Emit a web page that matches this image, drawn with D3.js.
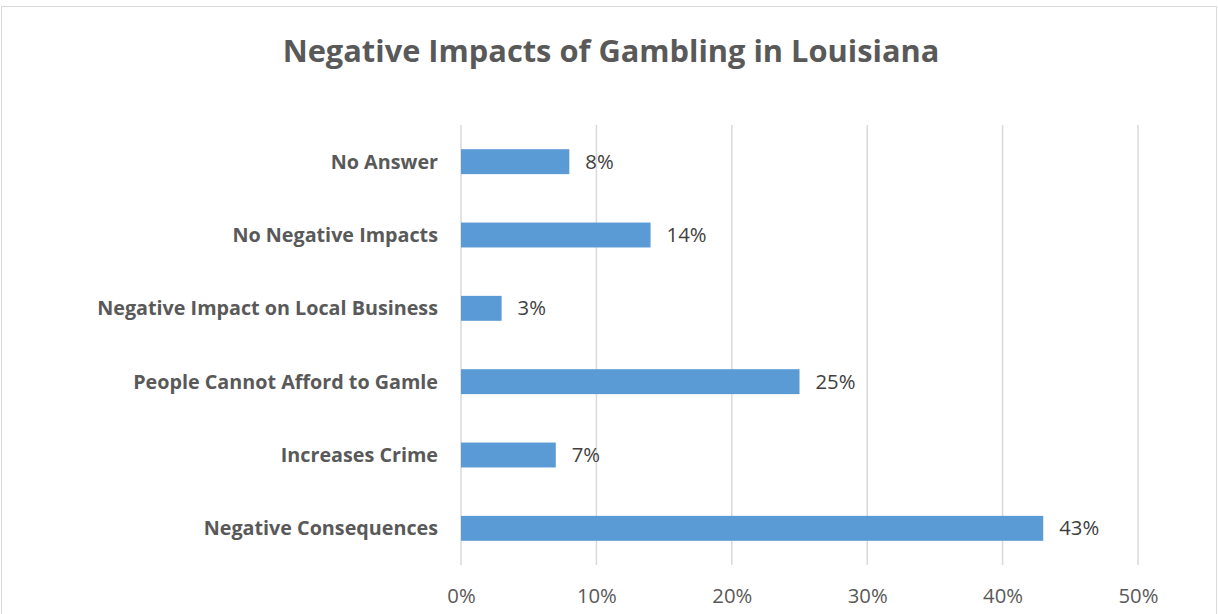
<!DOCTYPE html>
<html><head><meta charset="utf-8">
<script src="https://cdn.jsdelivr.net/npm/d3@7"></script>
<style>body{margin:0;background:#fff;} svg{display:block;}</style>
</head><body>
<svg id="c" width="1218" height="614"></svg>
<script>
const categories = ["No Answer","No Negative Impacts","Negative Impact on Local Business","People Cannot Afford to Gamle","Increases Crime","Negative Consequences"];
const values = [8,14,3,25,7,43];
const tickValues = [0,10,20,30,40,50];
const title = "Negative Impacts of Gambling in Louisiana";

const svg = d3.select("#c");
const W = 1218, H = 614;
const m = {left:461, right:W-1138, top:125, bottom:H-565};

svg.append("rect").attr("x",1.5).attr("y",6.5).attr("width",W-3).attr("height",H+10)
  .attr("fill","#fff").attr("stroke","#d9d9d9").attr("stroke-width",1);

const font = "'Open Sans', 'Liberation Sans', sans-serif";
function fitTo(sel, pred, target){
  const fs=parseFloat(sel.attr("font-size"));
  const w=sel.filter(pred).node().getComputedTextLength();
  sel.attr("font-size", fs*target/w);
}

const x = d3.scaleLinear().domain([0,50]).range([m.left, W-m.right]);
const y = d3.scaleBand().domain(categories).range([m.top, H-m.bottom]).paddingInner(0.66).paddingOuter(0.33);

// gridlines
svg.append("g").selectAll("line").data(tickValues).join("line")
  .attr("x1",d=>x(d)).attr("x2",d=>x(d)).attr("y1",m.top).attr("y2",H-m.bottom)
  .attr("stroke","#d9d9d9").attr("stroke-width",1.5);

// bars
svg.append("g").selectAll("rect").data(values).join("rect")
  .attr("x",x(0)).attr("y",(d,i)=>y(categories[i])).attr("width",d=>x(d)-x(0)).attr("height",y.bandwidth())
  .attr("fill","#5b9bd5");

// value labels
const vl = svg.append("g").selectAll("text").data(values).join("text")
  .attr("x",d=>x(d)+16).attr("y",(d,i)=>y(categories[i])+y.bandwidth()/2)
  .attr("dy","0.35em").attr("font-family",font).attr("font-size",18).attr("fill","#404040")
  .text(d=>d+"%");
fitTo(vl, d=>d===43, 40);

// category labels
const cl = svg.append("g").selectAll("text").data(categories).join("text")
  .attr("x",438).attr("y",d=>y(d)+y.bandwidth()/2).attr("dy","0.35em").attr("text-anchor","end")
  .attr("font-family",font).attr("font-weight","bold").attr("font-size",17).attr("fill","#595959")
  .text(d=>d);
fitTo(cl, d=>d==="Negative Impact on Local Business", 341);

// x-axis labels
const xa = svg.append("g").attr("transform",`translate(0,${H-m.bottom})`)
  .call(d3.axisBottom(x).tickValues(tickValues).tickFormat(d=>d+"%").tickSize(0).tickPadding(24));
xa.select(".domain").remove();
const xt = xa.selectAll("text").attr("font-family",font).attr("font-size",18).attr("fill","#595959");
fitTo(xt, d=>d===50, 40);

// title
const t = svg.append("text").attr("x",611).attr("y",62).attr("text-anchor","middle")
  .attr("font-family",font).attr("font-weight","bold").attr("font-size",30).attr("fill","#595959").text(title);
fitTo(t, ()=>true, 657);
</script>
</body></html>
